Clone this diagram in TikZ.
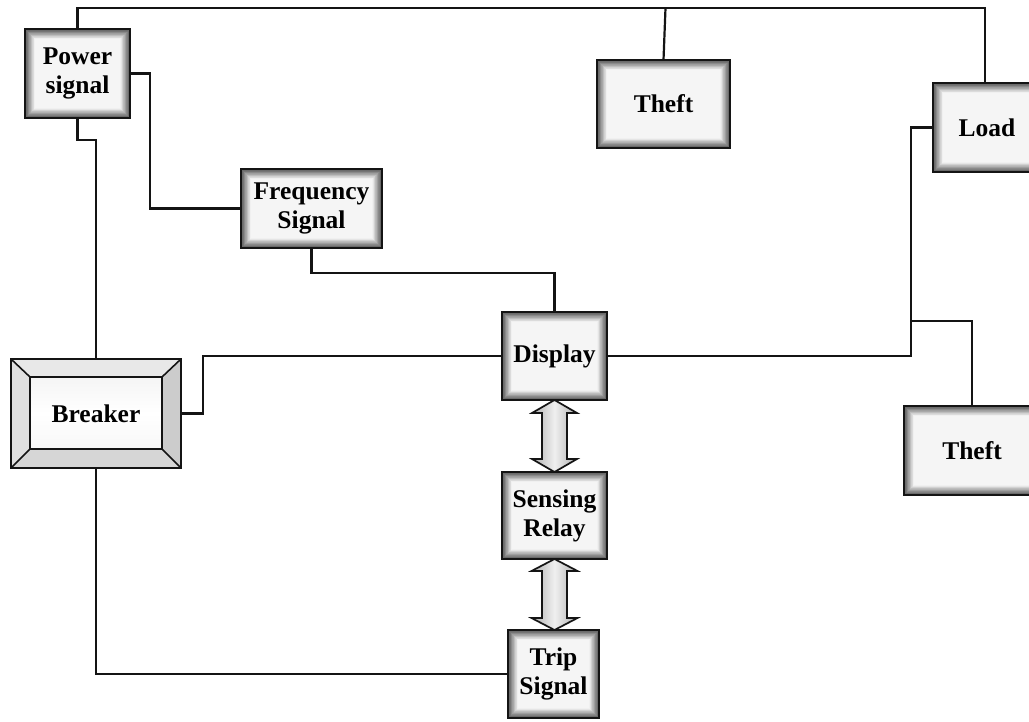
\documentclass[tikz,border=0pt]{standalone}
\usepackage{fontspec}
\setmainfont{Liberation Serif}
\usetikzlibrary{calc}
\tikzset{
  conn/.style={line width=2.2pt, draw=black!92},
  boxnode/.style={draw=black!92, line width=1.8pt, fill=black!4, inner sep=0pt, outer sep=0pt,
    align=center, font=\fontsize{25.5}{29}\selectfont\bfseries,
    path picture={
      \foreach \i in {1,...,16}{
        \pgfmathtruncatemacro{\c}{70-4*\i}
        \pgfmathsetmacro{\d}{0.6*\i}
        \draw[black!\c, line width=0.8pt]
          ([xshift=\d pt, yshift=-\d pt]path picture bounding box.north west) rectangle
          ([xshift=-\d pt, yshift=\d pt]path picture bounding box.south east);
      }
    }},
  bevelnode/.style={draw=black!92, line width=1.8pt, fill=black!16, inner sep=0pt, outer sep=0pt,
    align=center, font=\fontsize{25.5}{29}\selectfont\bfseries,
    path picture={
      \coordinate (nw) at (path picture bounding box.north west);
      \coordinate (se) at (path picture bounding box.south east);
      \coordinate (ne) at (path picture bounding box.north east);
      \coordinate (sw) at (path picture bounding box.south west);
      \fill[black!9] ([shift={(0.6pt,-0.6pt)}]nw) -- ([shift={(-0.6pt,-0.6pt)}]ne) -- ([shift={(-19pt,-18pt)}]ne) -- ([shift={(19pt,-18pt)}]nw) -- cycle;
      \fill[black!12] ([shift={(0.6pt,-0.6pt)}]nw) -- ([shift={(0.6pt,0.6pt)}]sw) -- ([shift={(19pt,19pt)}]sw) -- ([shift={(19pt,-18pt)}]nw) -- cycle;
      \fill[black!20] ([shift={(-0.6pt,-0.6pt)}]ne) -- ([shift={(-0.6pt,0.6pt)}]se) -- ([shift={(-19pt,19pt)}]se) -- ([shift={(-19pt,-18pt)}]ne) -- cycle;
      \shade[top color=black!4, bottom color=black!3, middle color=white, line width=1.6pt, draw=black!92]
        ([shift={(19pt,-18pt)}]nw) rectangle ([shift={(-19pt,19pt)}]se);
      \draw[line width=1.6pt, black!92] (nw) -- ([shift={(19pt,-18pt)}]nw);
      \draw[line width=1.6pt, black!92] (ne) -- ([shift={(-19pt,-18pt)}]ne);
      \draw[line width=1.6pt, black!92] (se) -- ([shift={(-19pt,19pt)}]se);
      \draw[line width=1.6pt, black!92] (sw) -- ([shift={(19pt,19pt)}]sw);
    }},
  dbl/.style={draw=black!92, line width=1.7pt, left color=black!32, right color=black!32, middle color=black!6, line join=miter}
}
\begin{document}
\begin{tikzpicture}[x=1pt, y=-1pt]
\useasboundingbox (0,0) rectangle (1029,722);
\fill[white] (0,0) rectangle (1029,722);
\clip (0,0) rectangle (1029,722);

\node[boxnode, minimum width=105pt, minimum height=89pt] (pow) at (77.5,73.5) {Power\\signal};
\node[boxnode, minimum width=141pt, minimum height=79pt] (freq) at (311.5,208.5) {Frequency\\Signal};
\node[boxnode, minimum width=133pt, minimum height=88pt] (theftA) at (663.5,104) {Theft};
\node[boxnode, minimum width=108pt, minimum height=89pt] (load) at (987,127.5) {Load};
\node[boxnode, minimum width=105pt, minimum height=88pt] (disp) at (554.5,356) {Display};
\node[boxnode, minimum width=105pt, minimum height=87pt] (sens) at (554.5,515.5) {Sensing\\Relay};
\node[boxnode, minimum width=91pt, minimum height=88pt] (trip) at (553.5,674) {Trip\\Signal};
\node[boxnode, minimum width=136pt, minimum height=89pt] (theftB) at (972,450.5) {Theft};
\node[bevelnode, minimum width=170pt, minimum height=109pt] (brk) at (96,413.5) {Breaker};

% connectors
\draw[conn] (pow.north) -- ++(0,-21) coordinate (topbus) -| ([xshift=-2pt]load.north);
\draw[conn] (theftA.north) -- (topbus -| {$(theftA.north)+(2,0)$});
\draw[conn] (pow.south) -- ++(0,22) -| (brk.north);
\draw[conn] (pow.east) -- ++(20,0) |- (freq.west);
\draw[conn] (freq.south) -- ++(0,25) -| (disp.north);
\draw[conn] (brk.east) -- ++(22,0) |- (disp.west);
\draw[conn] (disp.east) -- ++(304,0) coordinate (rj) |- (load.west);
\coordinate (br) at ($(rj)+(0,-35)$);
\draw[conn] (br) -| (theftB.north);
\draw[conn] (brk.south) |- (trip.west);

% double arrows
\draw[dbl] (disp.south) -- ++(22.5,13) -- ++(-10,0) -- ($(sens.north)+(12.5,-13)$) -- ++(10,0)
  -- (sens.north) -- ++(-22.5,-13) -- ++(10,0) -- ($(disp.south)+(-12.5,13)$) -- ++(-10,0) -- cycle;
\draw[dbl] (sens.south) -- ++(23,12) -- ++(-10.5,0) -- ($(sens.south |- trip.north)+(12.5,-12)$) -- ++(10.5,0)
  -- (sens.south |- trip.north) -- ++(-23,-12) -- ++(10.5,0) -- ($(sens.south)+(-12.5,12)$) -- ++(-10.5,0) -- cycle;
\end{tikzpicture}
\end{document}
